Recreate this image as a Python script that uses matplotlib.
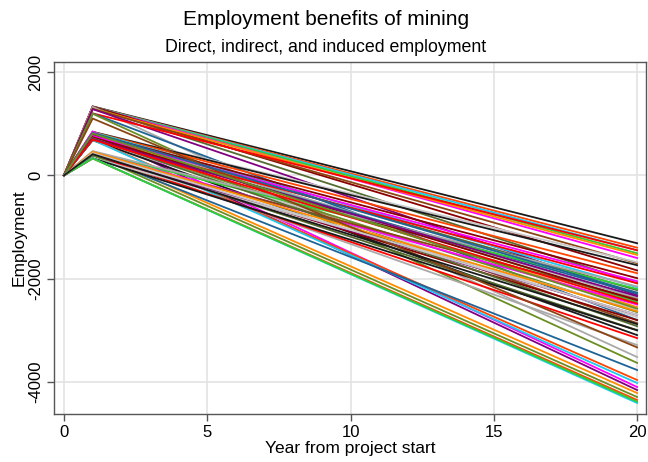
import matplotlib
matplotlib.use("Agg")
import matplotlib.pyplot as plt

years = [0, 1, 20]

# employment in year 1 (peak) and year 20 for each scenario
peak = [1335, 1330, 1328, 1325, 1322, 1330, 1318, 1326,
        1290, 1285, 1282,
        1200, 1196, 1192,
        845, 842, 838, 835, 832, 848,
        800, 796, 792, 788, 785, 805,
        695, 690, 688, 684, 680, 692, 686,
        450, 446, 442, 438, 434, 448,
        398, 394, 390, 388, 396,
        335, 330, 326, 332, 328,
        760, 740, 720, 470, 455, 1100,
        700, 690, 820, 810, 430, 410]
end = [-1314, -1400, -1450, -1507, -1600, -1840, -2090, -3517,
       -1540, -1700, -2320,
       -1450, -2800, -3630,
       -1681, -1739, -1894, -2164, -2454, -4097,
       -1990, -2222, -2377, -2551, -2860, -4155,
       -2087, -2290, -2647, -2744, -3092, -3961, -4019,
       -2200, -2500, -2802, -2995, -3285, -4213,
       -2400, -2700, -3150, -3768, -4290,
       -2600, -3000, -4348, -4406, -4380,
       -2050, -2420, -2920, -2150, -2630, -3330,
       -2340, -2480, -2270, -2580, -2700, -2880]

palette = ['#1a1a1a', '#ff4500', '#1ec8f0', '#32cd32', '#ff00ff',
           '#8b0000', '#556b2f', '#a9a9a9', '#ff8c00', '#8b4513',
           '#800080', '#ff0000', '#1e6496', '#6b8e23', '#c8c8c8']

plt.rcParams['font.family'] = ['Liberation Sans', 'DejaVu Sans']

fig = plt.figure(figsize=(6.48, 4.62), dpi=100)
ax = fig.add_axes([54 / 648, 48 / 462, 592 / 648, 352 / 462])

for i, (p, e) in enumerate(zip(peak, end)):
    ax.plot(years, [0, p, e], color=palette[i % len(palette)], lw=1.3,
            solid_joinstyle='miter')

ax.set_xlim(-0.35, 20.31)
ax.set_ylim(-4619, 2194)
ax.set_xticks([0, 5, 10, 15, 20])
ax.set_yticks([-4000, -2000, 0, 2000])
ax.set_yticklabels(['-4000', '-2000', '0', '2000'], rotation=90, va='center')
ax.grid(True, color='#e3e3e3', lw=1.2)
ax.set_axisbelow(True)
for s in ax.spines.values():
    s.set_color('#555555')
    s.set_linewidth(1.0)
ax.tick_params(colors='#555555', labelcolor='black', labelsize=12,
               length=5, width=1.0, pad=3)

ax.set_xlabel('Year from project start', fontsize=12.5, labelpad=1)
ax.set_ylabel('Employment', fontsize=12.5, labelpad=1)

fig.text(0.503, 0.957, 'Employment benefits of mining', ha='center',
         va='center', fontsize=15)
fig.text(0.503, 0.898, 'Direct, indirect, and induced employment',
         ha='center', va='center', fontsize=12.8)

fig.savefig('out.png', dpi=100)
